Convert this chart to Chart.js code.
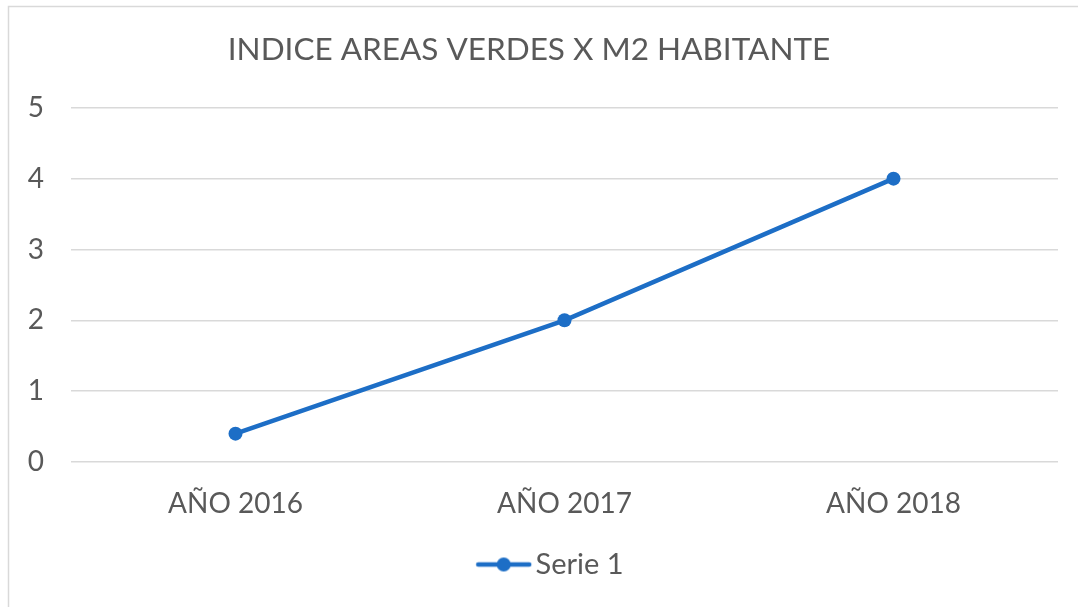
<!DOCTYPE html>
<html><head><meta charset="utf-8">
<script src="https://cdn.jsdelivr.net/npm/chart.js@4"></script>
<style>html,body{margin:0;padding:0;background:#fff}#wrap{width:1078px;height:607px;position:relative}</style>
</head><body><div id="wrap"><canvas id="c" width="1078" height="607"></canvas></div>
<script>
const categories = ["AÑO 2016", "AÑO 2017", "AÑO 2018"];
const serie1 = [0.4, 2, 4];
const seriesName = "Serie 1";
const titleText = "INDICE AREAS VERDES X M2 HABITANTE";
const BLUE = "#1d6ec6";
const TXT = "#595959";
const FONT = "Lato, 'Liberation Sans', sans-serif";

// legend icon: line with a dot, drawn on the left part of a wider transparent canvas
const icon = document.createElement('canvas');
icon.width = 76; icon.height = 16;
(function(){const g=icon.getContext('2d');g.strokeStyle=BLUE;g.lineWidth=4.5;g.lineCap='round';g.beginPath();g.moveTo(3,8);g.lineTo(54,8);g.stroke();g.fillStyle=BLUE;g.beginPath();g.arc(28.5,8,7,0,Math.PI*2);g.fill();})();

const borderPlugin = {id:'border',beforeDraw(chart){const c=chart.ctx;c.save();c.strokeStyle='#d9d9d9';c.lineWidth=1.5;c.beginPath();c.moveTo(8.5,607);c.lineTo(8.5,6.5);c.lineTo(1078,6.5);c.stroke();c.restore();}};

new Chart(document.getElementById('c'), {
  type:'line',
  data:{labels:categories,datasets:[{label:seriesName,data:serie1,borderColor:BLUE,backgroundColor:BLUE,borderWidth:4.5,pointRadius:7,pointHoverRadius:7,pointBackgroundColor:BLUE,pointBorderWidth:0,tension:0}]},
  options:{
    responsive:false,animation:false,
    layout:{padding:{left:0,right:20,top:0,bottom:18}},
    plugins:{
      title:{display:true,text:titleText,color:TXT,font:{family:FONT,size:31.5,weight:'normal',lineHeight:1.2},padding:{top:31,bottom:39}},
      legend:{position:'bottom',fullSize:false,labels:{color:TXT,font:{family:FONT,size:29},usePointStyle:true,pointStyleWidth:15.5,padding:10,
        generateLabels(chart){return [{text:seriesName,pointStyle:icon,fillStyle:BLUE,strokeStyle:BLUE,lineWidth:0,datasetIndex:0,fontColor:TXT}];}}},
      tooltip:{enabled:false}
    },
    scales:{
      x:{offset:true,grid:{display:false,drawTicks:false},border:{display:false},
        ticks:{color:TXT,font:{family:FONT,size:28},padding:25},
        afterFit(s){s.height=78;}},
      y:{min:0,max:5,grid:{color:'#d9d9d9',lineWidth:1.5,drawTicks:false},border:{display:false},
        ticks:{stepSize:1,color:TXT,font:{family:FONT,size:28},padding:27},
        afterFit(s){s.width=71;}}
    }
  },
  plugins:[borderPlugin]
});
</script></body></html>
